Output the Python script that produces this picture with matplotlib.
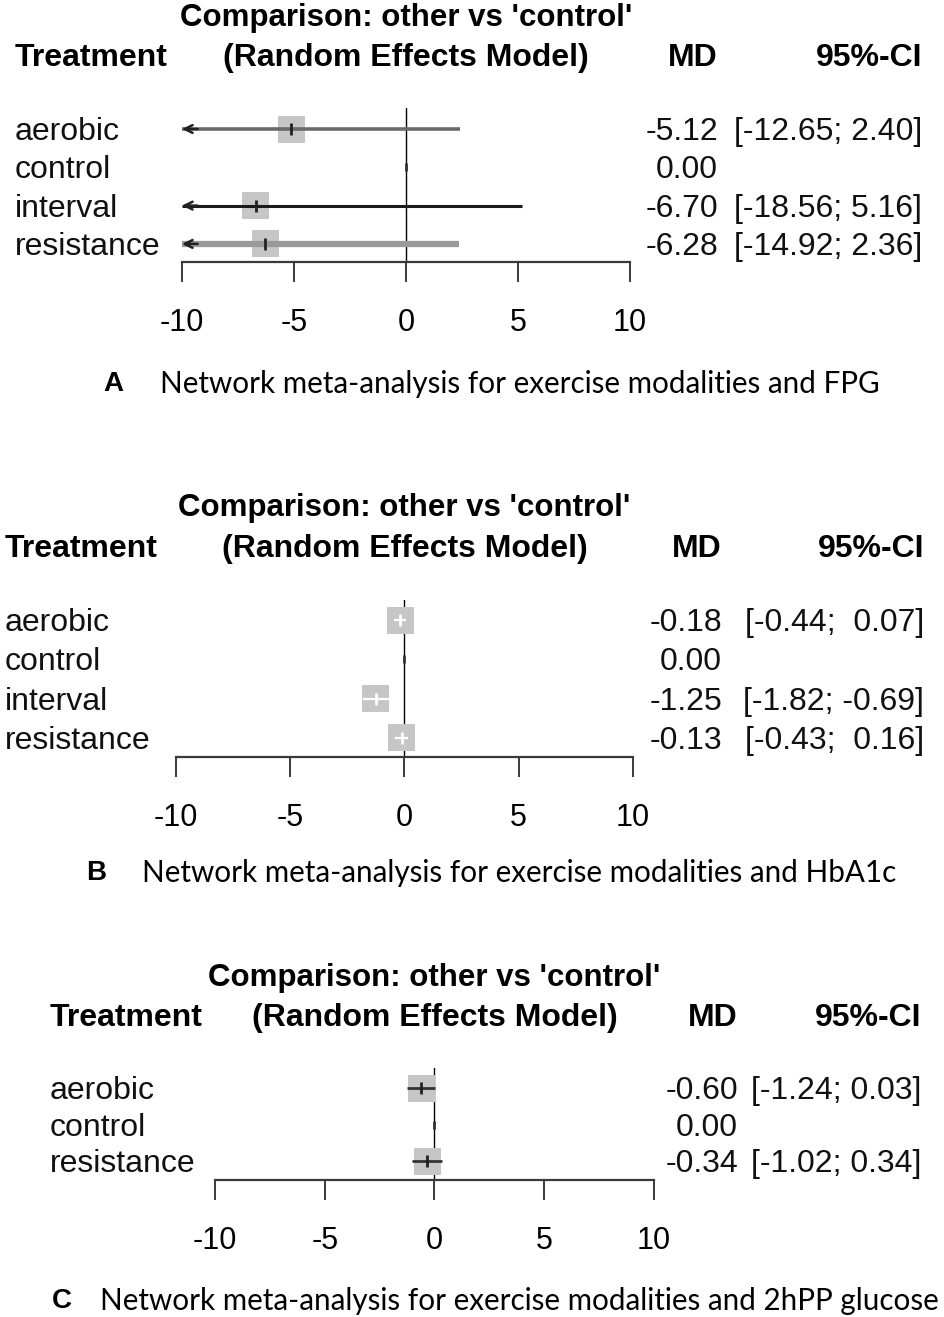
import numpy as np
import matplotlib
matplotlib.use("Agg")
import matplotlib.pyplot as plt
from matplotlib import transforms

plt.rcParams['font.family'] = ['Liberation Sans', 'DejaVu Sans']

W, H = 945, 1317

# ---- data ----
treat_a = ["aerobic", "control", "interval", "resistance"]
md_a = [-5.12, 0.00, -6.70, -6.28]
lo_a = [-12.65, np.nan, -18.56, -14.92]
hi_a = [2.40, np.nan, 5.16, 2.36]

treat_b = ["aerobic", "control", "interval", "resistance"]
md_b = [-0.18, 0.00, -1.25, -0.13]
lo_b = [-0.44, np.nan, -1.82, -0.43]
hi_b = [0.07, np.nan, -0.69, 0.16]

treat_c = ["aerobic", "control", "resistance"]
md_c = [-0.60, 0.00, -0.34]
lo_c = [-1.24, np.nan, -1.02]
hi_c = [0.03, np.nan, 0.34]

xticks = [-10, -5, 0, 5, 10]
captions = ["Network meta-analysis for exercise modalities and FPG",
            "Network meta-analysis for exercise modalities and HbA1c",
            "Network meta-analysis for exercise modalities and 2hPP glucose"]
letters = ["A", "B", "C"]

# ---- layout (pixels) ----
layouts = [
    dict(x_lo=182, x_hi=630, y_title=15, y_head=55, y_first=129, step=38.3,
         y_axis=262, y_ztop=108, lab_x=15, md_x=718, ci_x=922, head_x=15,
         cap_y=381, let_x=103, cap_x=160,
         line_cols=["#6a6a6a", None, "#1a1a1a", "#9a9a9a"],
         line_w=[2.6, 0, 2.2, 4.5]),
    dict(x_lo=176, x_hi=633, y_title=505, y_head=546, y_first=620, step=39.3,
         y_axis=757, y_ztop=600, lab_x=5, md_x=722, ci_x=924, head_x=5,
         cap_y=870, let_x=86, cap_x=142,
         line_cols=["#333333"] * 4, line_w=[2.0] * 4),
    dict(x_lo=215, x_hi=654, y_title=975, y_head=1015, y_first=1088, step=36.5,
         y_axis=1180, y_ztop=1068, lab_x=50, md_x=738, ci_x=921, head_x=50,
         cap_y=1298, let_x=52, cap_x=100,
         line_cols=["#333333"] * 3, line_w=[2.0] * 3),
]

panels = [(treat_a, md_a, lo_a, hi_a), (treat_b, md_b, lo_b, hi_b),
          (treat_c, md_c, lo_c, hi_c)]

fs = 23
box_px = 27
box_col = "#c6c6c6"
shift = 3  # px, text sits a little lower than its va=center position


def fmt_col(vals):
    s = ["" if np.isnan(v) else f"{v:.2f}" for v in vals]
    w = max(len(x) for x in s)
    return [x.rjust(w) if x else x for x in s]


fig = plt.figure(figsize=(W / 100, H / 100), dpi=100)

for k, ((treat, md, lo, hi), L) in enumerate(zip(panels, layouts)):
    n = len(treat)
    left = L["x_lo"] / W
    width = (L["x_hi"] - L["x_lo"]) / W
    bottom = 1 - L["y_axis"] / H
    height = (L["y_axis"] - L["y_ztop"]) / H
    ax = fig.add_axes([left, bottom, width, height])
    ax.set_xlim(-10, 10)
    ax.set_ylim((L["y_axis"] - L["y_first"]) / L["step"],
                -(L["y_first"] - L["y_ztop"]) / L["step"])
    for s in ["top", "left", "right"]:
        ax.spines[s].set_visible(False)
    ax.spines["bottom"].set_color("#3a3a3a")
    ax.spines["bottom"].set_linewidth(1.6)
    ax.set_yticks([])
    ax.set_xticks(xticks)
    ax.set_xticklabels([str(t) for t in xticks])
    ax.tick_params(axis="x", direction="out", length=14.4, width=1.4,
                   color="#3a3a3a", labelsize=22, pad=18.5)
    ax.patch.set_alpha(0)

    ax.axvline(0, color="black", lw=1.0, zorder=1)

    # box half-width in data units
    half = box_px / 2 / (L["x_hi"] - L["x_lo"]) * 20
    ys = np.arange(n)
    for i in range(n):
        if np.isnan(lo[i]):
            ax.plot([md[i]], [ys[i]], marker="|", ms=6, mew=2, color="#333333", zorder=2)
            continue
        ax.scatter([md[i]], [ys[i]], marker="s", s=(box_px * 0.72) ** 2,
                   color=box_col, edgecolors="none", zorder=2)
        inside = (lo[i] >= md[i] - half) and (hi[i] <= md[i] + half)
        col = "white" if inside else L["line_cols"][i]
        lw = 1.6 if inside else L["line_w"][i]
        a, b = max(lo[i], -10), min(hi[i], 10)
        ax.hlines(ys[i], a, b, color=col, lw=lw, zorder=3)
        ax.plot([md[i]], [ys[i]], marker="|", ms=8, mew=2,
                color=("white" if inside else "#222222"), zorder=4)
        if lo[i] < -10:
            ax.annotate("", xy=(-10, ys[i]), xytext=(-9.3, ys[i]),
                        arrowprops=dict(arrowstyle="->", color="#222222", lw=1.8,
                                        shrinkA=0, shrinkB=0, mutation_scale=14),
                        zorder=4)

    tr = transforms.blended_transform_factory(fig.transFigure, ax.transData)
    tr = transforms.offset_copy(tr, fig=fig, y=-shift, units="dots")
    lo_s, hi_s = fmt_col(lo), fmt_col(hi)
    for i in range(n):
        ax.text(L["lab_x"] / W, ys[i], treat[i], transform=tr, fontsize=fs,
                va="center", ha="left", color="#111111")
        ax.text(L["md_x"] / W, ys[i], f"{md[i]:.2f}", transform=tr, fontsize=fs,
                va="center", ha="right", color="#111111")
        if lo_s[i]:
            ax.text(L["ci_x"] / W, ys[i], f"[{lo_s[i]}; {hi_s[i]}]", transform=tr,
                    fontsize=fs, va="center", ha="right", color="#111111")

    # headers
    yt = 1 - (L["y_title"] + shift) / H
    yh = 1 - (L["y_head"] + shift) / H
    trx = transforms.blended_transform_factory(ax.transData, fig.transFigure)
    ax.text(0, yt, "Comparison: other vs 'control'", transform=trx,
            fontsize=22.5, fontweight="bold", ha="center", va="center")
    ax.text(0, yh, "(Random Effects Model)", transform=trx,
            fontsize=fs, fontweight="bold", ha="center", va="center")
    fig.text(L["head_x"] / W, yh, "Treatment", fontsize=fs,
             fontweight="bold", ha="left", va="center")
    fig.text(L["md_x"] / W, yh, "MD", fontsize=fs,
             fontweight="bold", ha="right", va="center")
    fig.text(L["ci_x"] / W, yh, "95%-CI", fontsize=fs,
             fontweight="bold", ha="right", va="center")

    # caption
    yc = 1 - (L["cap_y"] + shift) / H
    fig.text(L["let_x"] / W, yc, letters[k], fontsize=20,
             fontweight="bold", ha="left", va="center")
    fig.text(L["cap_x"] / W, yc, captions[k], fontsize=21.3,
             family="Lato", ha="left", va="center")

fig.savefig("out.png", dpi=100)
